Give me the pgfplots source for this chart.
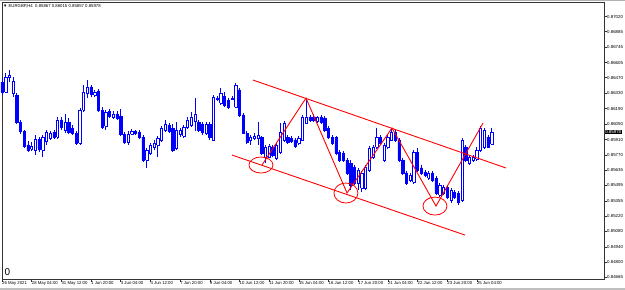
\documentclass[border=0pt]{standalone}
\usepackage{fontspec}
\setmainfont{Liberation Sans}
\usepackage{pgfplots}
\usepackage{pgfplotstable}
\pgfplotsset{compat=1.18}

\pgfplotstableread{
i o h l c
0 0.86430 0.86466 0.86312 0.86340
1 0.86340 0.86511 0.86331 0.86475
2 0.86475 0.86538 0.86430 0.86493
3 0.86331 0.86475 0.86294 0.86439
4 0.86312 0.86331 0.86050 0.86068
5 0.86068 0.86087 0.85960 0.85987
6 0.85987 0.85996 0.85834 0.85852
7 0.85861 0.85897 0.85797 0.85815
8 0.85824 0.85888 0.85806 0.85852
9 0.85815 0.85951 0.85770 0.85915
10 0.85915 0.85933 0.85797 0.85824
11 0.85815 0.85951 0.85752 0.85933
12 0.85897 0.85996 0.85861 0.85978
13 0.85924 0.85987 0.85906 0.85969
14 0.85978 0.85996 0.85915 0.85933
15 0.85933 0.86114 0.85915 0.86087
16 0.86087 0.86114 0.85996 0.86023
17 0.85996 0.86141 0.85969 0.86068
18 0.86068 0.86105 0.85960 0.85978
19 0.86014 0.86041 0.85951 0.85969
20 0.85969 0.85987 0.85861 0.85879
21 0.85879 0.86195 0.85861 0.86177
22 0.86177 0.86403 0.86159 0.86340
23 0.86331 0.86448 0.86285 0.86385
24 0.86385 0.86403 0.86294 0.86321
25 0.86312 0.86358 0.86294 0.86340
26 0.86349 0.86367 0.86159 0.86177
27 0.86177 0.86204 0.86005 0.86023
28 0.86032 0.86177 0.85996 0.86159
29 0.86168 0.86186 0.86105 0.86123
30 0.86114 0.86168 0.86096 0.86141
31 0.86141 0.86168 0.86087 0.86105
32 0.86123 0.86186 0.85942 0.85960
33 0.85960 0.85978 0.85870 0.85888
34 0.85888 0.85987 0.85861 0.85960
35 0.85960 0.86005 0.85951 0.85987
36 0.85987 0.85996 0.85951 0.85969
37 0.85978 0.85996 0.85915 0.85933
38 0.85933 0.85951 0.85707 0.85725
39 0.85725 0.85834 0.85653 0.85815
40 0.85788 0.85879 0.85770 0.85861
41 0.85843 0.85906 0.85815 0.85879
42 0.85861 0.85942 0.85752 0.85924
43 0.85906 0.86032 0.85888 0.86014
44 0.85996 0.86087 0.85978 0.86050
45 0.86041 0.86059 0.85969 0.85987
46 0.86014 0.86050 0.85797 0.85815
47 0.85834 0.86068 0.85815 0.85996
48 0.85960 0.86014 0.85933 0.85996
49 0.85942 0.86041 0.85924 0.86023
50 0.86023 0.86114 0.86005 0.86087
51 0.86041 0.86159 0.86023 0.86114
52 0.86078 0.86285 0.85987 0.86141
53 0.86068 0.86087 0.85978 0.85996
54 0.86050 0.86068 0.85951 0.85978
55 0.85969 0.86068 0.85951 0.86050
56 0.86050 0.86068 0.85906 0.85933
57 0.85906 0.86312 0.85897 0.86294
58 0.86276 0.86303 0.86258 0.86285
59 0.86240 0.86376 0.86222 0.86331
60 0.86303 0.86340 0.86204 0.86222
61 0.86267 0.86285 0.86186 0.86204
62 0.86276 0.86303 0.86267 0.86285
63 0.86204 0.86421 0.86195 0.86403
64 0.86358 0.86376 0.86114 0.86132
65 0.86132 0.86150 0.85960 0.85969
66 0.85969 0.85987 0.85870 0.85888
67 0.85906 0.85951 0.85861 0.85933
68 0.85924 0.85969 0.85906 0.85942
69 0.85924 0.86068 0.85861 0.85951
70 0.85933 0.85942 0.85770 0.85788
71 0.85752 0.85861 0.85698 0.85843
72 0.85752 0.85870 0.85743 0.85852
73 0.85843 0.85861 0.85752 0.85770
74 0.85743 0.85879 0.85725 0.85861
75 0.85797 0.86059 0.85779 0.85978
76 0.85906 0.86078 0.85888 0.86059
77 0.85933 0.85951 0.85870 0.85888
78 0.85924 0.85942 0.85879 0.85897
79 0.85906 0.85924 0.85834 0.85852
80 0.85879 0.85942 0.85861 0.85924
81 0.85906 0.86132 0.85897 0.86114
82 0.86059 0.86267 0.86050 0.86114
83 0.86114 0.86132 0.86068 0.86087
84 0.86114 0.86141 0.86068 0.86087
85 0.86078 0.86123 0.86059 0.86114
86 0.86114 0.86132 0.86050 0.86068
87 0.86105 0.86123 0.85978 0.85996
88 0.86014 0.86032 0.85915 0.85933
89 0.85933 0.85951 0.85861 0.85879
90 0.85933 0.85942 0.85770 0.85788
91 0.85797 0.85815 0.85707 0.85725
92 0.85788 0.85806 0.85707 0.85725
93 0.85725 0.85743 0.85590 0.85608
94 0.85698 0.85725 0.85454 0.85499
95 0.85662 0.85680 0.85499 0.85517
96 0.85517 0.85653 0.85454 0.85635
97 0.85472 0.85626 0.85436 0.85608
98 0.85472 0.85680 0.85454 0.85662
99 0.85635 0.85852 0.85617 0.85834
100 0.85752 0.85861 0.85734 0.85843
101 0.85843 0.86014 0.85824 0.85933
102 0.85933 0.85951 0.85861 0.85879
103 0.85725 0.85879 0.85707 0.85861
104 0.85843 0.85951 0.85824 0.85933
105 0.85906 0.86014 0.85897 0.85978
106 0.85978 0.86005 0.85888 0.85906
107 0.85906 0.85924 0.85707 0.85725
108 0.85725 0.85743 0.85590 0.85608
109 0.85608 0.85626 0.85499 0.85517
110 0.85544 0.85608 0.85526 0.85590
111 0.85526 0.85815 0.85508 0.85797
112 0.85797 0.85834 0.85617 0.85635
113 0.85653 0.85680 0.85590 0.85608
114 0.85617 0.85635 0.85571 0.85590
115 0.85562 0.85626 0.85544 0.85608
116 0.85608 0.85626 0.85526 0.85544
117 0.85562 0.85581 0.85409 0.85427
118 0.85409 0.85517 0.85391 0.85499
119 0.85427 0.85499 0.85409 0.85481
120 0.85481 0.85499 0.85373 0.85391
121 0.85364 0.85472 0.85337 0.85454
122 0.85436 0.85454 0.85373 0.85391
123 0.85427 0.85445 0.85318 0.85346
124 0.85364 0.85924 0.85346 0.85906
125 0.85843 0.85861 0.85707 0.85725
126 0.85698 0.85770 0.85680 0.85752
127 0.85725 0.85770 0.85707 0.85752
128 0.85734 0.85843 0.85716 0.85815
129 0.85815 0.86032 0.85797 0.86014
130 0.85843 0.86014 0.85824 0.85996
131 0.85933 0.85951 0.85834 0.85843
132 0.85867 0.86015 0.85857 0.85978
}\candles

\pgfplotsset{
  wick/.style={blue, line width=0.8bp, mark=none, forget plot},
  bear/.style={draw=blue, fill=blue, line width=0.5bp, mark=none, forget plot},
  bull/.style={draw=blue, fill=white, line width=0.6bp, mark=none, forget plot},
}

\begin{document}
\begin{tikzpicture}
\path[use as bounding box] (0,0) rectangle (625bp,290bp);
\fill[white] (0,0) rectangle (625bp,290bp);
\fill[black!25] (0,0) rectangle (625bp,2bp);
\fill[black!30] (0,289bp) rectangle (625bp,290bp);
\begin{axis}[
  at={(2bp,11bp)}, anchor=south west,
  scale only axis, width=602bp, height=277bp,
  xmin=0, xmax=162.26, ymin=0.84650, ymax=0.87153,
  clip=false,
  axis line style={line width=0.8bp, black!80},
  xtick={0,8,...,128},
  xticklabels={26 May 2021,28 May 04:00,31 May 12:00,1 Jun 20:00,3 Jun 04:00,4 Jun 12:00,7 Jun 20:00,9 Jun 04:00,10 Jun 12:00,11 Jun 20:00,15 Jun 04:00,16 Jun 12:00,17 Jun 20:00,21 Jun 04:00,22 Jun 12:00,23 Jun 20:00,25 Jun 04:00},
  ytick={0.87020,0.86885,0.86745,0.86605,0.86470,0.86330,0.86190,0.86050,0.85910,0.85770,0.85635,0.85495,0.85355,0.85220,0.85080,0.84940,0.84800,0.84665},
  yticklabels={0.87020,0.86885,0.86745,0.86605,0.86470,0.86330,0.86190,0.86050,0.85910,0.85770,0.85635,0.85495,0.85355,0.85220,0.85080,0.84940,0.84800,0.84665},
  xtick pos=bottom, ytick pos=right, yticklabel pos=right,
  tick align=outside,
  major tick length=3bp,
  tick style={black!80, line width=0.5bp},
  xticklabel style={font=\fontsize{4.3}{4.3}\selectfont, anchor=west, inner sep=0.5bp, xshift=-0.5bp, yshift=-1bp},
  yticklabel style={font=\fontsize{4.4}{4.4}\selectfont, anchor=west, inner sep=0.5bp, xshift=-0.5bp},
  scaled y ticks=false,
]
\pgfplotstablegetrowsof{\candles}
\pgfmathtruncatemacro{\N}{\pgfplotsretval-1}
\foreach \r in {0,...,\N}{
  \pgfplotstablegetelem{\r}{i}\of\candles \edef\ci{\pgfplotsretval}
  \pgfplotstablegetelem{\r}{o}\of\candles \edef\co{\pgfplotsretval}
  \pgfplotstablegetelem{\r}{h}\of\candles \edef\ch{\pgfplotsretval}
  \pgfplotstablegetelem{\r}{l}\of\candles \edef\cl{\pgfplotsretval}
  \pgfplotstablegetelem{\r}{c}\of\candles \edef\cc{\pgfplotsretval}
  \pgfmathsetmacro{\xa}{\ci-0.3}
  \pgfmathsetmacro{\xb}{\ci+0.3}
  \edef\tmp{\noexpand\addplot[wick] coordinates {(\ci,\cl) (\ci,\ch)};}\tmp
  \ifdim\cc pt<\co pt
    \edef\tmp{\noexpand\addplot[bear] coordinates {(\xa,\co) (\xb,\co) (\xb,\cc) (\xa,\cc) (\xa,\co)};}\tmp
  \else
    \edef\tmp{\noexpand\addplot[bull] coordinates {(\xa,\co) (\xb,\co) (\xb,\cc) (\xa,\cc) (\xa,\co)};}\tmp
  \fi
}
% channel and zigzag
\addplot[red, line width=0.9bp, mark=none] coordinates {(67.65,0.86448) (135.85,0.85653)};
\addplot[red, line width=0.9bp, mark=none] coordinates {(62.0,0.85770) (124.8,0.85047)};
\addplot[red, line width=0.9bp, mark=none] coordinates {(70.08,0.85680) (81.94,0.86285) (92.99,0.85427) (105.12,0.86014) (116.98,0.85309) (129.65,0.86059)};
\draw[red, line width=0.8bp] (axis cs:69.8,0.85680) ellipse [x radius=12bp, y radius=8bp];
\draw[red, line width=0.8bp] (axis cs:92.7,0.85427) ellipse [x radius=12bp, y radius=10bp];
\draw[red, line width=0.8bp] (axis cs:116.7,0.85309) ellipse [x radius=12bp, y radius=9bp];
\coordinate (pb) at (axis cs:162.26,0.85978);
\end{axis}
\node[anchor=west, fill=black, text=white, inner sep=0.6bp, font=\fontsize{4.4}{4.4}\selectfont] at ([xshift=0.5bp]pb) {0.85978};
\node[anchor=west, inner sep=0, font=\fontsize{4.3}{5}\selectfont] at (3bp,284bp) {▼ EURGBP,H4\ \ 0.85867 0.86015 0.85857 0.85978};
\node[anchor=west, inner sep=0, font=\fontsize{10}{11}\selectfont] at (4.5bp,17.5bp) {0};
\end{tikzpicture}
\end{document}
